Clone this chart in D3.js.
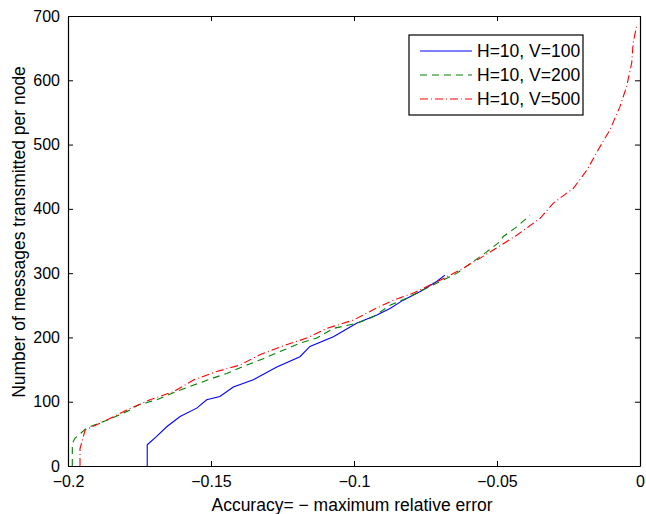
<!DOCTYPE html>
<html>
<head>
<meta charset="utf-8">
<script src="https://cdn.jsdelivr.net/npm/d3@7"></script>
<style>
  body { margin: 0; background: #fff; }
  text { font-family: "Liberation Sans", Arial, sans-serif; }
</style>
</head>
<body>
<div id="chart"></div>
<script>
// values
var blueX = [-0.1723,-0.1723,-0.169,-0.1655,-0.1608,-0.155,-0.1515,-0.1469,-0.1422,-0.1352,-0.127,-0.1189,-0.1154,-0.1072,-0.0991,-0.092,-0.0874,-0.0828,-0.077,-0.0711,-0.0682];
var blueY = [0,33,46,61,77,90,103,108,123,134,154,170,186,201,222,235,245,258,271,287,297];

var greenX = [-0.1985,-0.1985,-0.1976,-0.1935,-0.1859,-0.1783,-0.1754,-0.169,-0.162,-0.156,-0.1498,-0.1445,-0.1375,-0.1317,-0.1259,-0.1189,-0.113,-0.1072,-0.099,-0.0933,-0.0874,-0.0816,-0.0758,-0.0699,-0.064,-0.0583,-0.0536,-0.049,-0.0478,-0.0431,-0.0385];
var greenY = [0,35,43,59,72,87,95,103,116,126,136,144,157,167,178,191,199,214,222,232,250,261,274,287,300,318,333,349,357,372,390];

var redX = [-0.1958,-0.1958,-0.194,-0.1877,-0.178,-0.1713,-0.163,-0.156,-0.148,-0.1399,-0.1329,-0.1247,-0.1165,-0.1095,-0.1002,-0.0933,-0.0862,-0.0792,-0.0699,-0.0629,-0.056,-0.0513,-0.0431,-0.035,-0.0303,-0.0233,-0.0186,-0.0146,-0.0105,-0.007,-0.0047,-0.0029,-0.0024,-0.0012];
var redY = [0,27,56,69,90,103,116,134,147,157,173,187,199,214,227,243,258,269,289,305,323,336,359,385,409,432,460,492,523,559,590,627,658,684];

var xTicks = [-0.2, -0.15, -0.1, -0.05, 0];
var yTicks = [0, 100, 200, 300, 400, 500, 600, 700];
var legendLabels = ["H=10, V=100", "H=10, V=200", "H=10, V=500"];

var margin = {top: 16, right: 6, bottom: 48, left: 68},
    width = 646 - margin.left - margin.right,
    height = 514 - margin.top - margin.bottom;

var x = d3.scaleLinear().domain([-0.2, 0]).range([0, width]);
var y = d3.scaleLinear().domain([0, 700]).range([height, 0]);

var svg = d3.select("#chart").append("svg")
    .attr("width", 646)
    .attr("height", 514)
  .append("g")
    .attr("transform", "translate(" + margin.left + "," + margin.top + ")");

var fmtX = function(d) { return d === 0 ? "0" : "\u2212" + Math.abs(d); };

// axes, ticks point inward like matlab
var xAxis = d3.axisBottom(x).tickValues(xTicks).tickSizeInner(-5).tickSizeOuter(0).tickPadding(10).tickFormat(fmtX);
var xAxisTop = d3.axisTop(x).tickValues(xTicks).tickSizeInner(-5).tickSizeOuter(0).tickFormat("");
var yAxis = d3.axisLeft(y).tickValues(yTicks).tickSizeInner(-5).tickSizeOuter(0).tickPadding(8);
var yAxisRight = d3.axisRight(y).tickValues(yTicks).tickSizeInner(-5).tickSizeOuter(0).tickFormat("");

svg.append("g").attr("class", "axis").attr("transform", "translate(0," + height + ")").call(xAxis);
svg.append("g").attr("class", "axis").call(xAxisTop);
svg.append("g").attr("class", "axis").call(yAxis);
svg.append("g").attr("class", "axis").attr("transform", "translate(" + width + ",0)").call(yAxisRight);

svg.selectAll(".axis path").attr("stroke", "#000").attr("stroke-width", 1.2);
svg.selectAll(".axis line").attr("stroke", "#000");
svg.selectAll(".axis text").attr("font-size", 16).attr("fill", "#000")
    .style("font-family", "'Liberation Sans', Arial, sans-serif");

var series = [
  {xs: blueX, ys: blueY, color: "#0000ff", dash: null},
  {xs: greenX, ys: greenY, color: "#008000", dash: "7,5"},
  {xs: redX, ys: redY, color: "#ff0000", dash: "8,3,1,3"}
];

var line = d3.line()
    .x(function(d) { return x(d[0]); })
    .y(function(d) { return y(d[1]); });

series.forEach(function(s) {
  var pts = s.xs.map(function(v, i) { return [v, s.ys[i]]; });
  svg.append("path")
      .datum(pts)
      .attr("fill", "none")
      .attr("stroke", s.color)
      .attr("stroke-width", 1.1)
      .attr("stroke-dasharray", s.dash)
      .attr("d", line);
});

// legend
var lg = svg.append("g").attr("transform", "translate(341,19)");
lg.append("rect")
    .attr("width", 174).attr("height", 80)
    .attr("fill", "#fff").attr("stroke", "#000").attr("stroke-width", 1.2);

series.forEach(function(s, i) {
  var yy = 16 + i * 24;
  lg.append("line")
      .attr("x1", 11).attr("x2", 63).attr("y1", yy).attr("y2", yy)
      .attr("stroke", s.color).attr("stroke-width", 1.1)
      .attr("stroke-dasharray", s.dash);
  lg.append("text")
      .attr("x", 68).attr("y", yy).attr("dy", "0.35em")
      .attr("font-size", 17.5)
      .text(legendLabels[i]);
});

// axis labels
svg.append("text")
    .attr("x", width / 2 - 2).attr("y", height + 45)
    .attr("text-anchor", "middle").attr("font-size", 17.5)
    .text("Accuracy= \u2212 maximum relative error");

svg.append("text")
    .attr("transform", "translate(" + (-43) + "," + (height / 2 - 9) + ") rotate(-90)")
    .attr("text-anchor", "middle").attr("font-size", 17.5)
    .text("Number of messages transmitted per node");
</script>
</body>
</html>
